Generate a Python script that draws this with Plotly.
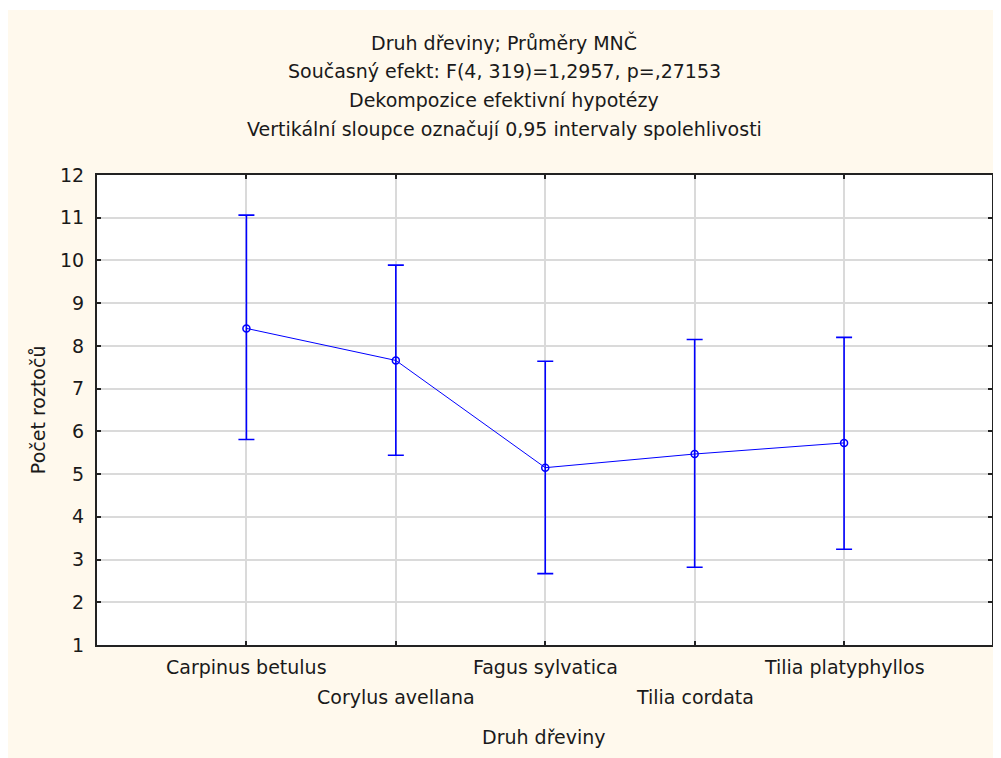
import plotly.graph_objects as go

categories = ["Carpinus betulus", "Corylus avellana", "Fagus sylvatica", "Tilia cordata", "Tilia platyphyllos"]
means = [8.41, 7.66, 5.15, 5.47, 5.73]
upper = [11.06, 9.89, 7.64, 8.15, 8.20]
lower = [5.81, 5.44, 2.67, 2.82, 3.24]
label_row = [0, 1, 0, 1, 0]
y_ticks = list(range(1, 13))
title_lines = [
    "Druh dřeviny; Průměry MNČ",
    "Současný efekt: F(4, 319)=1,2957, p=,27153",
    "Dekompozice efektivní hypotézy",
    "Vertikální sloupce označují 0,95 intervaly spolehlivosti",
]

# page offset (browser body margin)
OX, OY = 8, 8
W, H = 1001 - OX, 758 - OY
L, R, T, B = 97 - OX, 994 - OX, 175 - OY, 645 - OY
pw, ph = R - L, B - T

def px_x(p):
    return (p - OX - L) / pw

def px_y(p):
    return (B - (p - OY)) / ph

FONT = "DejaVu Sans"
FS = 19
TXT = "#1a1a1a"
BLUE = "#0000FF"
BG = "#FFF9ED"

xs = list(range(len(categories)))
err_plus = [u - m for u, m in zip(upper, means)]
err_minus = [m - l for m, l in zip(means, lower)]

fig = go.Figure()
fig.add_trace(go.Scatter(
    x=xs, y=means, mode="lines+markers",
    line=dict(color=BLUE, width=1),
    marker=dict(symbol="circle-open", size=7, color=BLUE, line=dict(width=1.5, color=BLUE)),
    error_y=dict(type="data", symmetric=False, array=err_plus, arrayminus=err_minus,
                 color=BLUE, thickness=1.6, width=8),
    showlegend=False, hoverinfo="skip",
))

annotations = []
title_y = [42, 71, 100, 129]
for txt, yp in zip(title_lines, title_y):
    annotations.append(dict(text=txt, xref="paper", yref="paper", x=px_x(505), y=px_y(yp),
                            xanchor="center", yanchor="middle", showarrow=False,
                            font=dict(family=FONT, size=FS, color=TXT)))
row_y = [667, 697]
for i, (c, r) in enumerate(zip(categories, label_row)):
    annotations.append(dict(text=c, xref="x", yref="paper", x=i, y=px_y(row_y[r]),
                            xanchor="center", yanchor="middle", showarrow=False,
                            font=dict(family=FONT, size=FS, color=TXT)))
annotations.append(dict(text="Druh dřeviny", xref="paper", yref="paper", x=px_x(545), y=px_y(737),
                        xanchor="center", yanchor="middle", showarrow=False,
                        font=dict(family=FONT, size=FS, color=TXT)))
annotations.append(dict(text="Počet roztočů", xref="paper", yref="paper", x=px_x(38), y=px_y(410),
                        xanchor="center", yanchor="middle", showarrow=False, textangle=-90,
                        font=dict(family=FONT, size=FS, color=TXT)))

fig.update_layout(
    width=W, height=H,
    margin=dict(l=L, r=W - R, t=T, b=H - B, pad=0),
    paper_bgcolor=BG, plot_bgcolor="white",
    annotations=annotations,
    shapes=[dict(type="rect", xref="paper", yref="paper", x0=px_x(0), x1=px_x(1010),
                 y0=px_y(10), y1=px_y(0), fillcolor="white", line=dict(width=0), layer="below")],
    xaxis=dict(range=[-1.0, 4.99], tickvals=xs, ticktext=[""] * len(xs), showticklabels=False,
               showgrid=True, gridcolor="#DADADA", gridwidth=1.5, zeroline=False,
               showline=True, linecolor="#222222", linewidth=2, mirror="ticks",
               ticks="inside", ticklen=4, tickcolor="#222222", tickwidth=1.5),
    yaxis=dict(range=[1, 12], tickvals=y_ticks, ticktext=[str(v) for v in y_ticks],
               showgrid=True, gridcolor="#DADADA", gridwidth=1.5, zeroline=False,
               showline=True, linecolor="#222222", linewidth=2, mirror="ticks",
               ticks="inside", ticklen=4, tickcolor="#222222", tickwidth=1.5,
               ticklabelstandoff=7,
               tickfont=dict(family=FONT, size=FS, color=TXT)),
)

fig.write_html("out.html")
